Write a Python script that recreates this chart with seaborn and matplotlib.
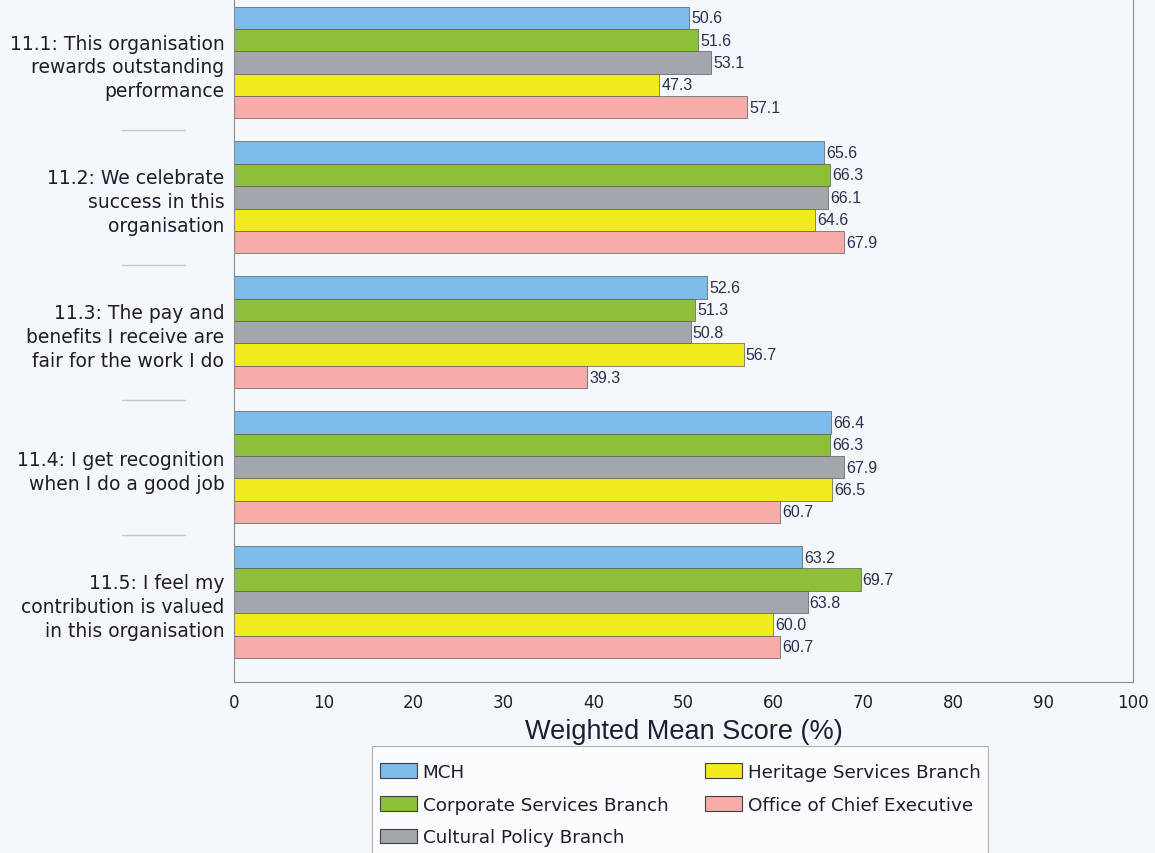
import matplotlib
matplotlib.use("Agg")
import matplotlib.pyplot as plt
import matplotlib.transforms as mtransforms
from matplotlib.patches import Rectangle
import seaborn as sns
import pandas as pd

questions = [
    "11.1: This organisation\nrewards outstanding\nperformance",
    "11.2: We celebrate\nsuccess in this\norganisation",
    "11.3: The pay and\nbenefits I receive are\nfair for the work I do",
    "11.4: I get recognition\nwhen I do a good job",
    "11.5: I feel my\ncontribution is valued\nin this organisation",
]
groups = ["MCH", "Corporate Services Branch", "Cultural Policy Branch",
          "Heritage Services Branch", "Office of Chief Executive"]
mch = [50.6, 65.6, 52.6, 66.4, 63.2]
corporate = [51.6, 66.3, 51.3, 66.3, 69.7]
cultural = [53.1, 66.1, 50.8, 67.9, 63.8]
heritage = [47.3, 64.6, 56.7, 66.5, 60.0]
office = [57.1, 67.9, 39.3, 60.7, 60.7]
x_ticks = [0, 10, 20, 30, 40, 50, 60, 70, 80, 90, 100]

colors = ["#7dbbea", "#8dc038", "#a3a7ad", "#f1ea1c", "#f6aca8"]

series = [mch, corporate, cultural, heritage, office]
rows = []
for g, vals in zip(groups, series):
    for q, v in zip(questions, vals):
        rows.append({"question": q, "group": g, "score": v})
df = pd.DataFrame(rows)

sns.set_theme(style="white")
plt.rcParams["font.family"] = ["DejaVu Sans"]
bg = "#f5f8fb"
W, H = 1155, 854
fig = plt.figure(figsize=(W / 100, H / 100), dpi=100, facecolor=bg)
ax = fig.add_axes([234 / W, 1 - 683 / H, (1133 - 234) / W, (683 + 16.5) / H])
ax.set_facecolor(bg)

sns.barplot(data=df, y="question", x="score", hue="group", order=questions,
            hue_order=groups, palette=colors, saturation=1, orient="h", width=0.83,
            edgecolor="#5a5a5a", linewidth=0.5, ax=ax, legend=True)

for cont in ax.containers:
    ax.bar_label(cont, fmt="%.1f", padding=1.5, fontsize=11.5,
                 color="#283050", family="Liberation Sans")

ax.set_xlim(0, 100)
ax.set_ylim(4.593, -0.593)
ax.set_xticks(x_ticks)
ax.set_xticklabels([str(t) for t in x_ticks], fontsize=12, color="#1e1e2a")
ax.tick_params(axis="x", length=0, pad=8)
ax.tick_params(axis="y", length=0, pad=7)
for lab in ax.get_yticklabels():
    lab.set_fontsize(13.5)
    lab.set_color("#1c1c2c")
    lab.set_horizontalalignment("right")
    lab.set_linespacing(1.32)
ax.set_ylabel("")
ax.set_xlabel("Weighted Mean Score (%)", fontsize=19.5, family="Liberation Sans",
              color="#1a1f33", labelpad=5)

for s in ["left", "bottom", "right"]:
    ax.spines[s].set_color("#8c8c8c")
    ax.spines[s].set_linewidth(0.8)
ax.spines["top"].set_visible(False)

# faint separator lines between question labels
trans = mtransforms.blended_transform_factory(ax.transAxes, ax.transData)
for yv in [0.5, 1.5, 2.5, 3.5]:
    ax.plot([-0.125, -0.055], [yv, yv], transform=trans, color="#c4c8cc",
            linewidth=1.0, clip_on=False)

# legend frame (box extends past the bottom edge, as in the reference)
frame = Rectangle((372 / W, -0.01), (988 - 372) / W, 1 - 747 / H + 0.01,
                  transform=fig.transFigure, facecolor="#fbfcfd",
                  edgecolor="#b0b0b0", linewidth=0.8, zorder=1, clip_on=False)
ax.add_artist(frame)

leg = ax.legend(loc="upper left", bbox_to_anchor=(380 / W, 1 - 764 / H),
                bbox_transform=fig.transFigure, ncol=2,
                frameon=False, fontsize=13.2, handlelength=2.0,
                handleheight=0.85, columnspacing=2.0, labelspacing=0.8,
                borderpad=0, handletextpad=0.33, borderaxespad=0)
leg.set_zorder(10)
for h in leg.legend_handles:
    h.set_edgecolor("#404040")
    h.set_linewidth(0.8)
for t in leg.get_texts():
    t.set_color("#1c1c2c")

fig.savefig("out.png", dpi=100, facecolor=bg)
